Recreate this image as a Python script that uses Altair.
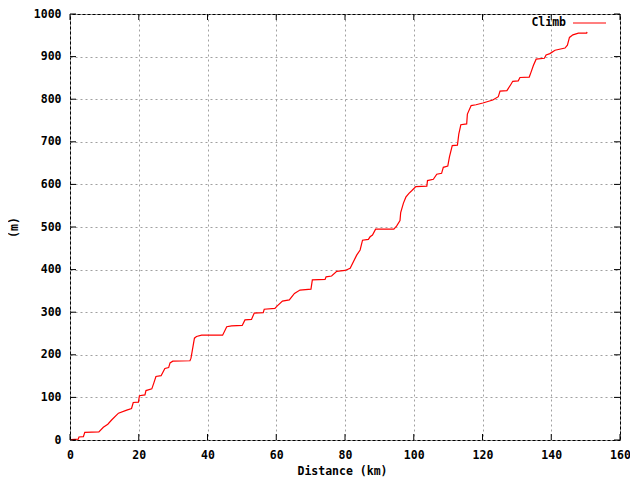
import altair as alt
import pandas as pd

# Data
distance_km = [0.3, 2.4, 2.6, 3.9, 4.3, 8.4, 9.7, 11.0, 12.1, 14.1, 16.5, 17.9, 18.4, 19.9,
               20.2, 21.8, 22.1, 23.8, 24.4, 25.0, 26.5, 27.6, 28.7, 29.1, 29.9, 34.9, 35.2,
               36.2, 36.8, 38.3, 44.4, 45.6, 47.0, 50.1, 50.9, 52.8, 53.6, 56.2, 56.5, 59.6,
               60.3, 61.8, 63.8, 65.3, 66.9, 70.1, 70.5, 74.2, 74.5, 76.1, 77.6, 80.0, 81.5,
               83.4, 84.4, 85.1, 86.8, 87.3, 88.0, 88.9, 94.2, 95.0, 96.0, 96.2, 97.0, 97.7,
               98.6, 99.4, 100.6, 103.8, 104.0, 105.7, 106.7, 108.1, 108.6, 109.9, 110.4,
               111.2, 112.7, 113.1, 113.7, 115.4, 115.6, 116.7, 118.1, 120.1, 123.0, 124.6,
               125.1, 127.1, 128.2, 128.8, 130.4, 130.9, 133.6, 134.1, 134.8, 135.6, 138.0,
               138.5, 139.6, 141.1, 144.0, 144.7, 145.3, 146.3, 147.9, 150.3, 150.4]
climb_m = [1, 2, 7, 8, 18, 19, 30, 37, 47, 63, 70, 74, 88, 89,
           104, 106, 116, 120, 134, 149, 151, 168, 170, 181, 185, 186, 192,
           239, 243, 246, 246, 266, 268, 269, 282, 283, 298, 299, 307, 309,
           315, 326, 329, 344, 352, 354, 376, 377, 383, 385, 396, 398, 403,
           434, 446, 469, 471, 477, 481, 495, 495, 502, 515, 534, 556, 570,
           579, 585, 595, 596, 609, 612, 624, 626, 640, 643, 665,
           691, 692, 718, 740, 742, 765, 785, 787, 791, 798, 806,
           819, 820, 834, 842, 843, 851, 852, 863, 879, 894, 896,
           904, 907, 915, 920, 927, 945, 951, 955, 955, 958]
x_ticks = [0, 20, 40, 60, 80, 100, 120, 140, 160]
y_ticks = [0, 100, 200, 300, 400, 500, 600, 700, 800, 900, 1000]
series_name = ["Climb"]

df = pd.DataFrame({"Distance": distance_km, "Climb": climb_m})
xt = pd.DataFrame({"Distance": x_ticks})
yt = pd.DataFrame({"Climb": y_ticks})
lg = pd.DataFrame({"label": series_name})

W, H = 550, 426
FONT = "DejaVu Sans Mono"
FS = 11.5
TL = 6

x_scale = alt.Scale(domain=[0, 160], nice=False, zero=False)
y_scale = alt.Scale(domain=[0, 1000], nice=False, zero=False)

x_axis = alt.Axis(values=x_ticks, format="d", title="Distance (km)", grid=True,
                  gridColor="#a0a0a0", gridDash=[2, 3], ticks=False, domain=False,
                  labelFont=FONT, labelFontWeight="bold", labelFontSize=FS,
                  labelColor="black", labelPadding=9, labelFlush=False, labelOverlap=False,
                  titleFont=FONT, titleFontWeight="bold", titleFontSize=FS,
                  titleColor="black", titleX=272, titleY=31, titleAlign="center",
                  titleBaseline="middle")
y_axis = alt.Axis(values=y_ticks, format="d", title="(m)", grid=True, gridColor="#a0a0a0",
                  gridDash=[2, 3], ticks=False, domain=False, labelFont=FONT,
                  labelFontWeight="bold", labelFontSize=FS, labelColor="black",
                  labelPadding=9, labelFlush=False, labelOverlap=False,
                  titleFont=FONT, titleFontWeight="bold", titleFontSize=FS,
                  titleColor="black", titleX=-56, titleY=213, titleAngle=270,
                  titleAlign="center", titleBaseline="middle")

X = alt.X("Distance:Q", scale=x_scale, axis=x_axis)
Y = alt.Y("Climb:Q", scale=y_scale, axis=y_axis)

line = alt.Chart(df).mark_line(color="red", strokeWidth=1.2).encode(x=X, y=Y)

xb = alt.Chart(xt).mark_rule(color="black", strokeWidth=1).encode(
    x=X, y=alt.value(H), y2=alt.value(H - TL))
xtop = alt.Chart(xt).mark_rule(color="black", strokeWidth=1).encode(
    x=X, y=alt.value(0), y2=alt.value(TL))
yl = alt.Chart(yt).mark_rule(color="black", strokeWidth=1).encode(
    y=Y, x=alt.value(0), x2=alt.value(TL))
yr = alt.Chart(yt).mark_rule(color="black", strokeWidth=1).encode(
    y=Y, x=alt.value(W), x2=alt.value(W - TL))

leg_text = alt.Chart(lg).mark_text(font=FONT, fontWeight="bold", fontSize=FS, align="right",
                                   baseline="middle", color="black").encode(
    text="label:N", x=alt.value(496), y=alt.value(9))
leg_line = alt.Chart(lg).mark_rule(color="red", strokeWidth=1.2).encode(
    x=alt.value(503), x2=alt.value(536), y=alt.value(9))

chart = alt.layer(line, xb, xtop, yl, yr, leg_text, leg_line).properties(
    width=W, height=H,
    autosize=alt.AutoSizeParams(type="none"),
    padding={"left": 62, "top": 6, "right": 10, "bottom": 40},
    background="white",
).configure_view(stroke="black", strokeWidth=1)

chart.save("out.html", embed_options={"renderer": "svg", "actions": False})
